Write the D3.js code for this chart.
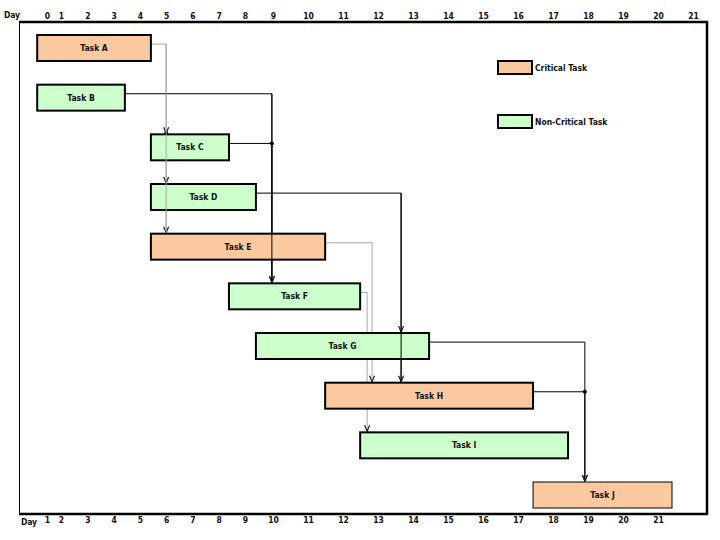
<!DOCTYPE html>
<html>
<head>
<meta charset="utf-8">
<script src="https://cdn.jsdelivr.net/npm/d3@7/dist/d3.min.js"></script>
<style>
  body { margin: 0; background: #fff; }
  svg { display: block; }
  text { font-family: "DejaVu Sans Condensed", "DejaVu Sans", sans-serif; font-stretch: condensed; font-weight: bold; font-size: 8.5px; fill: #111; }
</style>
</head>
<body>
<svg width="720" height="540"></svg>
<script>
const tasks = ['Task A', 'Task B', 'Task C', 'Task D', 'Task E', 'Task F', 'Task G', 'Task H', 'Task I', 'Task J'];
const starts = [-0.7, -0.7, 4.42, 4.42, 4.42, 7.39, 8.39, 10.49, 11.49, 16.43];
const ends = [4.42, 3.43, 7.39, 8.39, 10.49, 11.49, 13.46, 16.43, 17.43, 20.4];
const critical = [true, false, false, false, true, false, false, true, false, true];
const days = d3.range(0, 22);

// dependency links: from a task, along to a day, down to the successors
const links = [
  { from: 'Task A', to: ['Task C', 'Task D', 'Task E'], at: 5, grey: true },
  { from: 'Task B', to: ['Task F'], at: 8.96, grey: false },
  { from: 'Task C', to: ['Task F'], at: 8.96, grey: false },
  { from: 'Task D', to: ['Task G', 'Task H'], at: 12.66, grey: false },
  { from: 'Task E', to: ['Task H'], at: 11.83, grey: true },
  { from: 'Task F', to: ['Task I'], at: 11.69, grey: true },
  { from: 'Task G', to: ['Task J'], at: 17.91, grey: false },
  { from: 'Task H', to: ['Task J'], at: 17.91, grey: false }
];

const data = tasks.map((t, i) => ({ name: t, start: starts[i], end: ends[i], critical: critical[i] }));
const byName = new Map(data.map(d => [d.name, d]));

const svg = d3.select('svg');

// the printed day scale is uneven, so it is piecewise
const x = d3.scaleLinear()
  .domain([0, 1, 8, 9, 21])
  .range([47, 61, 245, 273, 693]);

const y = d3.scaleBand()
  .domain(tasks)
  .range([35, 508])
  .paddingInner(0.477)
  .paddingOuter(0)
  .align(0);

const yConn = (name) => y(name) + y.bandwidth() * 0.35;

// frame
svg.append('line').attr('x1', 19.5).attr('x2', 19.5).attr('y1', 22).attr('y2', 515)
  .attr('stroke', '#000').attr('stroke-width', 1);
svg.append('path')
  .attr('d', 'M19,22H707V514H19')
  .attr('fill', 'none')
  .attr('stroke', '#000')
  .attr('stroke-width', 2.5);

// axes
const topAxis = svg.append('g')
  .attr('transform', 'translate(0, 19)')
  .call(d3.axisTop(x).tickValues(days).tickSize(0).tickPadding(0).tickFormat(d3.format('d')));
topAxis.select('.domain').remove();
topAxis.selectAll('text').attr('font-size', null).attr('font-family', null);

const bottomAxis = svg.append('g')
  .attr('transform', 'translate(0, 517)')
  .call(d3.axisBottom(x).tickValues(days.slice(0, 21)).tickSize(0).tickPadding(0).tickFormat(d => d + 1));
bottomAxis.select('.domain').remove();
bottomAxis.selectAll('text').attr('font-size', null).attr('font-family', null);

svg.append('text').attr('x', 12).attr('y', 18).attr('text-anchor', 'middle').text('Day');
svg.append('text').attr('x', 29).attr('y', 525).attr('text-anchor', 'middle').text('Day');

// connectors
const linkG = svg.append('g').attr('fill', 'none');
const seen = new Set();
links.forEach(l => {
  const src = byName.get(l.from);
  const x0 = x(src.end);
  const y0 = yConn(l.from);
  const xa = x(l.at);
  const last = l.to[l.to.length - 1];
  const col = l.grey ? '#a8a8a8' : '#000';
  linkG.append('path')
    .attr('d', `M${x0},${y0}H${xa}V${y(last) - 1}`)
    .attr('stroke', col)
    .attr('stroke-width', 1);
  l.to.forEach(t => {
    const yt = y(t) - 1;
    linkG.append('path')
      .attr('d', `M${xa - 2.5},${yt - 6}L${xa},${yt}L${xa + 2.5},${yt - 6}`)
      .attr('stroke', '#222')
      .attr('stroke-width', 1.2);
  });
  if (seen.has(l.at)) {
    svg.append('circle').attr('cx', xa).attr('cy', y0).attr('r', 2).attr('fill', '#000');
  }
  if (l.to.length === 3) {
    svg.append('circle').attr('cx', xa).attr('cy', y(l.to[0]) - 1).attr('r', 2).attr('fill', '#000');
  }
  seen.add(l.at);
});

// bars
const bars = svg.append('g')
  .selectAll('g')
  .data(data)
  .join('g');

bars.append('rect')
  .attr('x', d => x(d.start))
  .attr('y', d => y(d.name))
  .attr('width', d => x(d.end) - x(d.start))
  .attr('height', y.bandwidth())
  .attr('fill', d => d.critical ? '#fbc9a0' : '#ccffcc')
  .attr('stroke', '#000')
  .attr('stroke-width', d => d.name === 'Task J' ? 1 : 2);

// the connectors that run over bars are drawn on top again
links.filter(l => l.from === 'Task D' || l.from === 'Task B' || l.from === 'Task A').forEach(l => {
  const xa = x(l.at);
  const y0 = yConn(l.from);
  const last = l.to[l.to.length - 1];
  svg.append('line')
    .attr('x1', xa).attr('x2', xa)
    .attr('y1', y0).attr('y2', y(last) - 1)
    .attr('stroke', l.grey ? '#a8a8a8' : '#000')
    .attr('stroke-width', 1);
});

bars.append('text')
  .attr('x', d => (x(d.start) + x(d.end)) / 2)
  .attr('y', d => y(d.name) + y.bandwidth() / 2 + 3)
  .attr('text-anchor', 'middle')
  .text(d => d.name);

// legend
const legend = svg.append('g')
  .selectAll('g')
  .data([{ label: 'Critical Task', critical: true }, { label: 'Non-Critical Task', critical: false }])
  .join('g')
  .attr('transform', (d, i) => `translate(498, ${61 + i * 54})`);

legend.append('rect')
  .attr('width', 34)
  .attr('height', 13)
  .attr('fill', d => d.critical ? '#fbc9a0' : '#ccffcc')
  .attr('stroke', '#000')
  .attr('stroke-width', 2);

legend.append('text')
  .attr('x', 37)
  .attr('y', 10)
  .text(d => d.label);
</script>
</body>
</html>
